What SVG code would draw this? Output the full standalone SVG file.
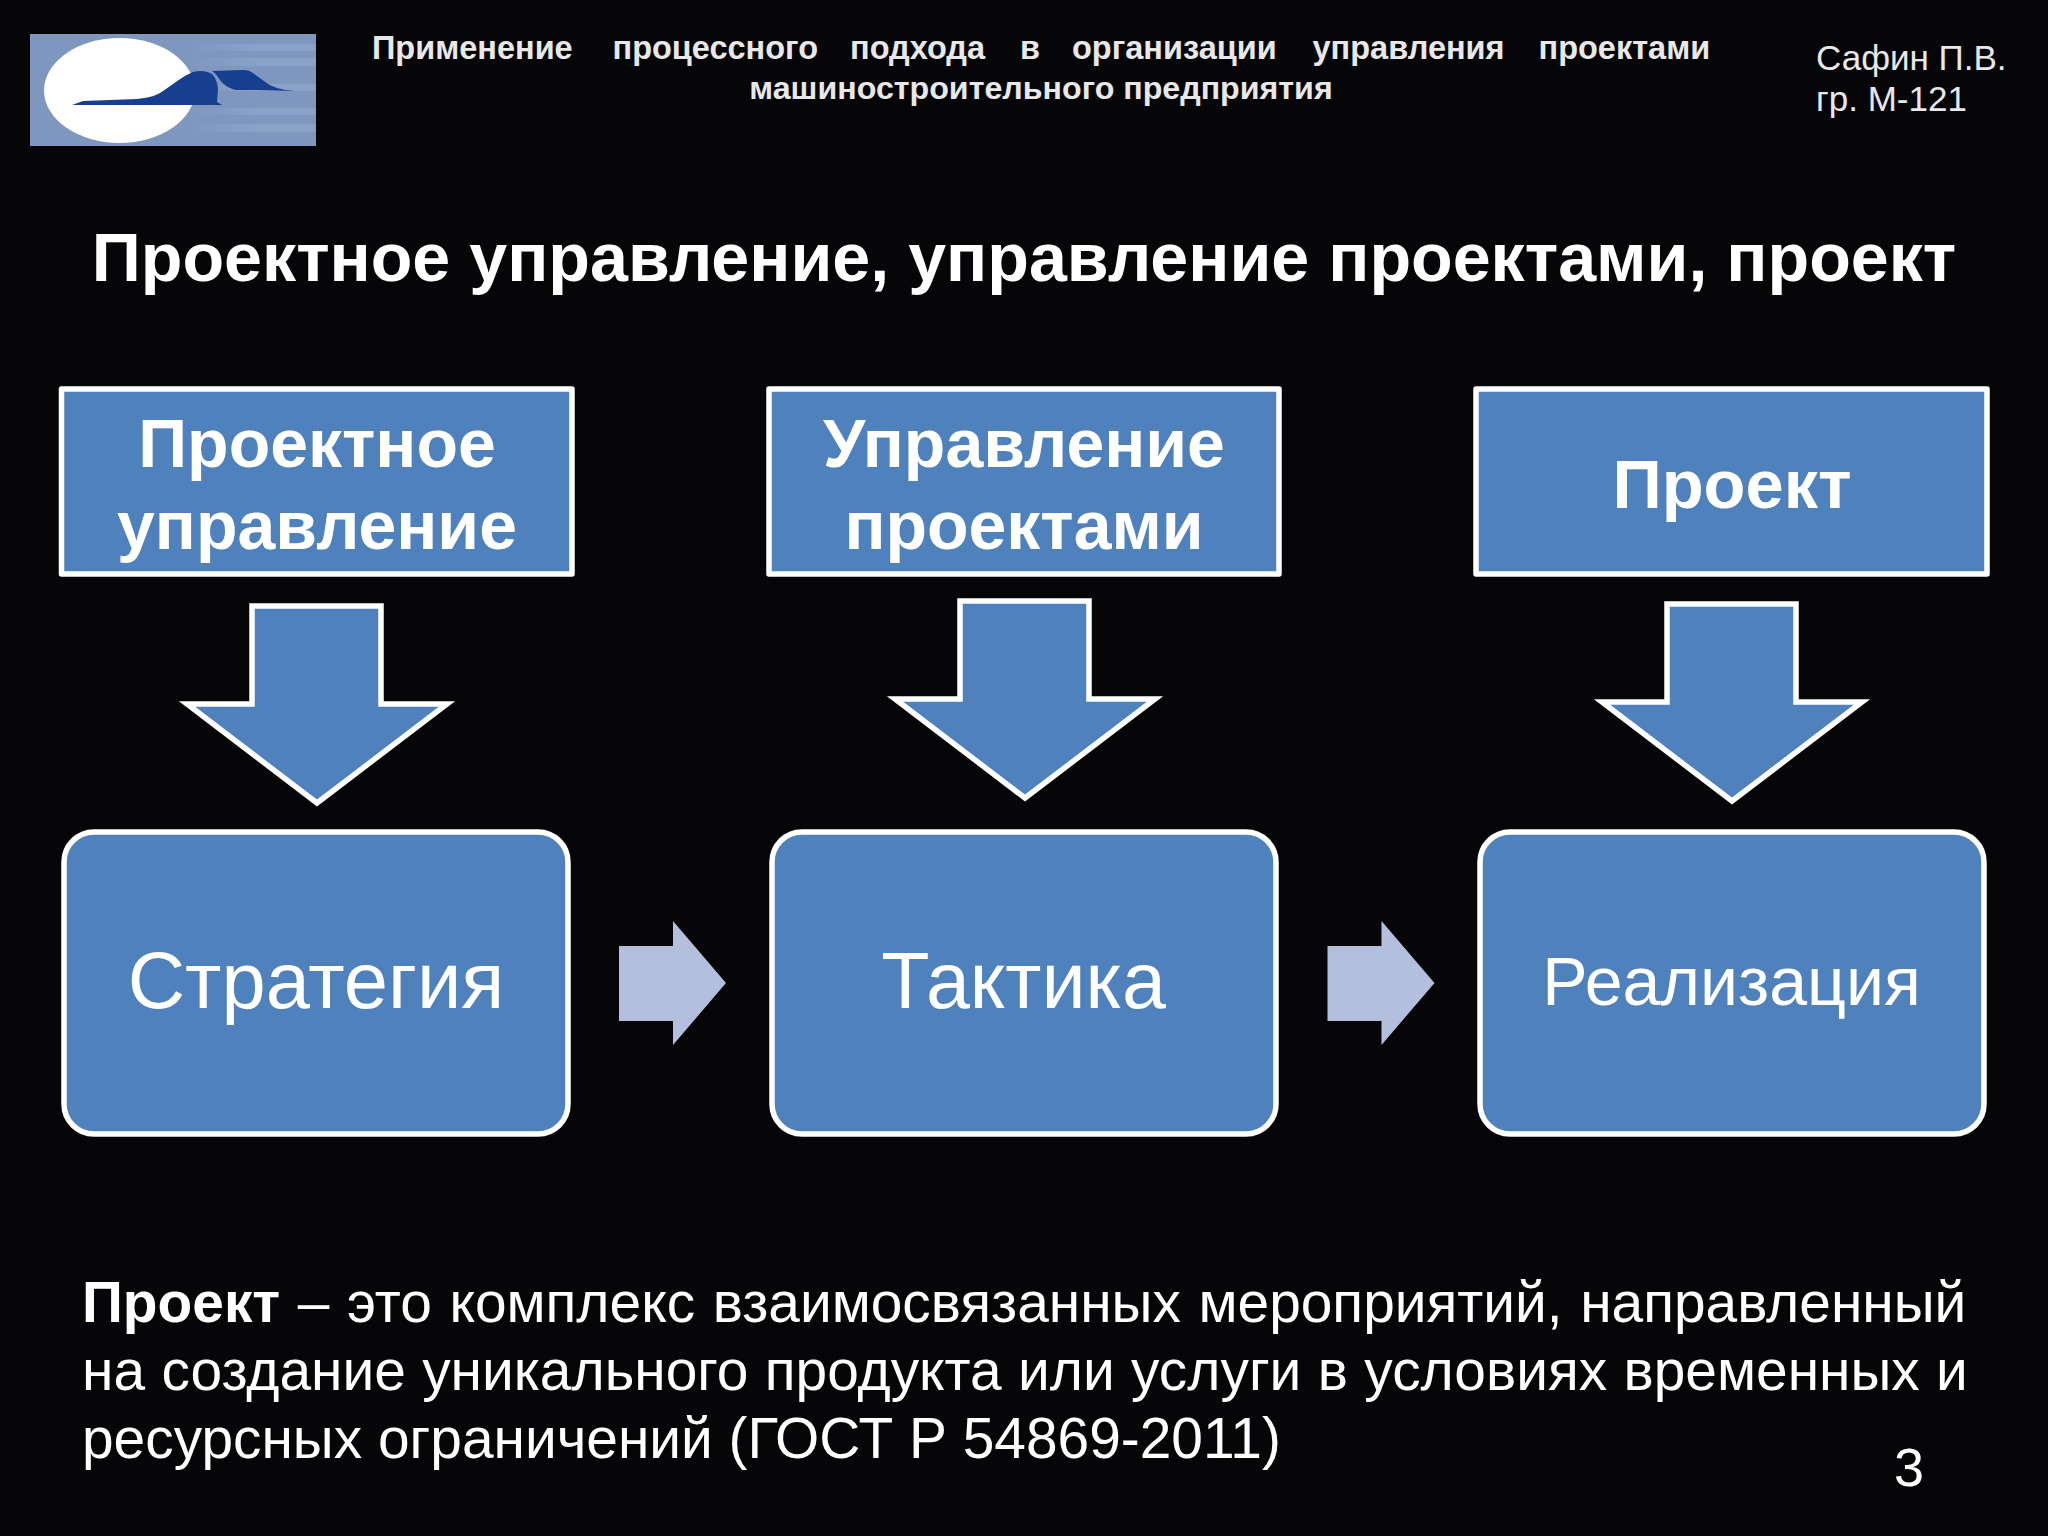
<svg xmlns="http://www.w3.org/2000/svg" width="2048" height="1536" viewBox="0 0 2048 1536">
<style>
text{font-family:"Liberation Sans",Arial,sans-serif;fill:#fff}
.box{fill:#4f81bd;stroke:#fff;stroke-width:5.5;stroke-linejoin:round}
.down{fill:#4f81bd;stroke:#fff;stroke-width:5.5;stroke-linejoin:miter;stroke-miterlimit:10}
.head{font-weight:bold;font-size:68px;text-anchor:middle}
.main{font-size:79.5px;text-anchor:middle}
.step{fill:#b3bfdc}
.body{font-size:56.85px}
.hdr{font-size:32.5px;fill:#e8e8e8;font-weight:bold}
.who{font-size:35px;fill:#e8e8e8}
</style>
<defs>
<path id="downShape" class="down" d="M252 606H381V704H447L317 803L187 704H252Z"/>
<path id="stepShape" class="step" d="M619 946H673V921L726 983L673 1045V1021H619Z"/>
<linearGradient id="stripe" gradientUnits="userSpaceOnUse" x1="190" y1="0" x2="260" y2="0"><stop offset="0" stop-color="#7f97bf"/><stop offset="1" stop-color="#8aa2c8"/></linearGradient>
</defs>
<rect width="2048" height="1536" fill="#060608"/>
<g id="logo">
<rect x="30" y="34" width="286" height="112" fill="#7f97bf"/>
<g fill="url(#stripe)"><rect x="190" y="44" width="126" height="7"/><rect x="190" y="58" width="126" height="8"/><rect x="190" y="84" width="126" height="7"/><rect x="190" y="108" width="126" height="7"/><rect x="190" y="124" width="126" height="8"/></g>
<ellipse cx="119.5" cy="90.5" rx="75.5" ry="52.5" fill="#fff"/>
<g fill="#16408f">
<path d="M72 105L83 101L137 99C147 98 155 96 160 93C172 85 183 76 193 72C200 70 207 71 212 74C216 78 218 85 218 90L217 102L222 105Z"/>
<path d="M212 71L243 70C248 70 250 71 253 73L268 84C277 89 285 90 295 91L258 90L236 90C228 88 224 85 220 80C218 77 216 74 212 71Z"/>
</g>
</g>
<g id="header">
<text class="hdr" y="59"><tspan x="372">Применение</tspan> <tspan x="612.5">процессного</tspan> <tspan x="850">подхода</tspan> <tspan x="1020">в</tspan> <tspan x="1072">организации</tspan> <tspan x="1312.5">управления</tspan> <tspan x="1538.5">проектами</tspan></text>
<text class="hdr" x="1041" y="99" text-anchor="middle" style="font-size:32.2px">машиностроительного предприятия</text>
<text class="who" x="1816" y="70">Сафин П.В.</text>
<text class="who" x="1816" y="111">гр. М-121</text>
</g>
<text id="title" x="1024" y="281" font-size="68.2" font-weight="bold" text-anchor="middle">Проектное управление, управление проектами, проект</text>
<g id="connectors">
<use id="down1" href="#downShape"/>
<use id="down2" href="#downShape" transform="translate(708,-5)"/>
<use id="down3" href="#downShape" transform="translate(1415,-2)"/>
<use id="next1" href="#stepShape"/>
<use id="next2" href="#stepShape" transform="translate(708.5,0)"/>
</g>
<g id="n1"><rect class="box" x="61.5" y="389" width="510.5" height="185"/><text class="head" x="317" y="467">Проектное</text><text class="head" x="317" y="549">управление</text></g>
<g id="n2"><rect class="box" x="769" y="389" width="510" height="185"/><text class="head" x="1024" y="467">Управление</text><text class="head" x="1024" y="549">проектами</text></g>
<g id="n3"><rect class="box" x="1476" y="389" width="511" height="185"/><text class="head" x="1732" y="508" style="font-size:68.6px">Проект</text></g>
<g id="n4"><rect class="box" x="64" y="832" width="504" height="302" rx="30"/><text class="main" x="316" y="1008">Стратегия</text></g>
<g id="n5"><rect class="box" x="772" y="832" width="504" height="302" rx="30"/><text class="main" x="1023.5" y="1008" style="font-size:79px">Тактика</text></g>
<g id="n6"><rect class="box" x="1480" y="832" width="504" height="302" rx="30"/><text class="main" x="1731.5" y="1005" style="font-size:68px">Реализация</text></g>
<g id="definition">
<text class="body" x="82" y="1322" style="word-spacing:1.8px"><tspan font-weight="bold">Проект</tspan> – это комплекс взаимосвязанных мероприятий, направленный</text>
<text class="body" x="82" y="1390" style="word-spacing:.6px">на создание уникального продукта или услуги в условиях временных и</text>
<text class="body" x="82" y="1458">ресурсных ограничений (ГОСТ Р 54869-2011)</text>
</g>
<text id="page" x="1909" y="1486" font-size="54" text-anchor="middle">3</text>
</svg>
